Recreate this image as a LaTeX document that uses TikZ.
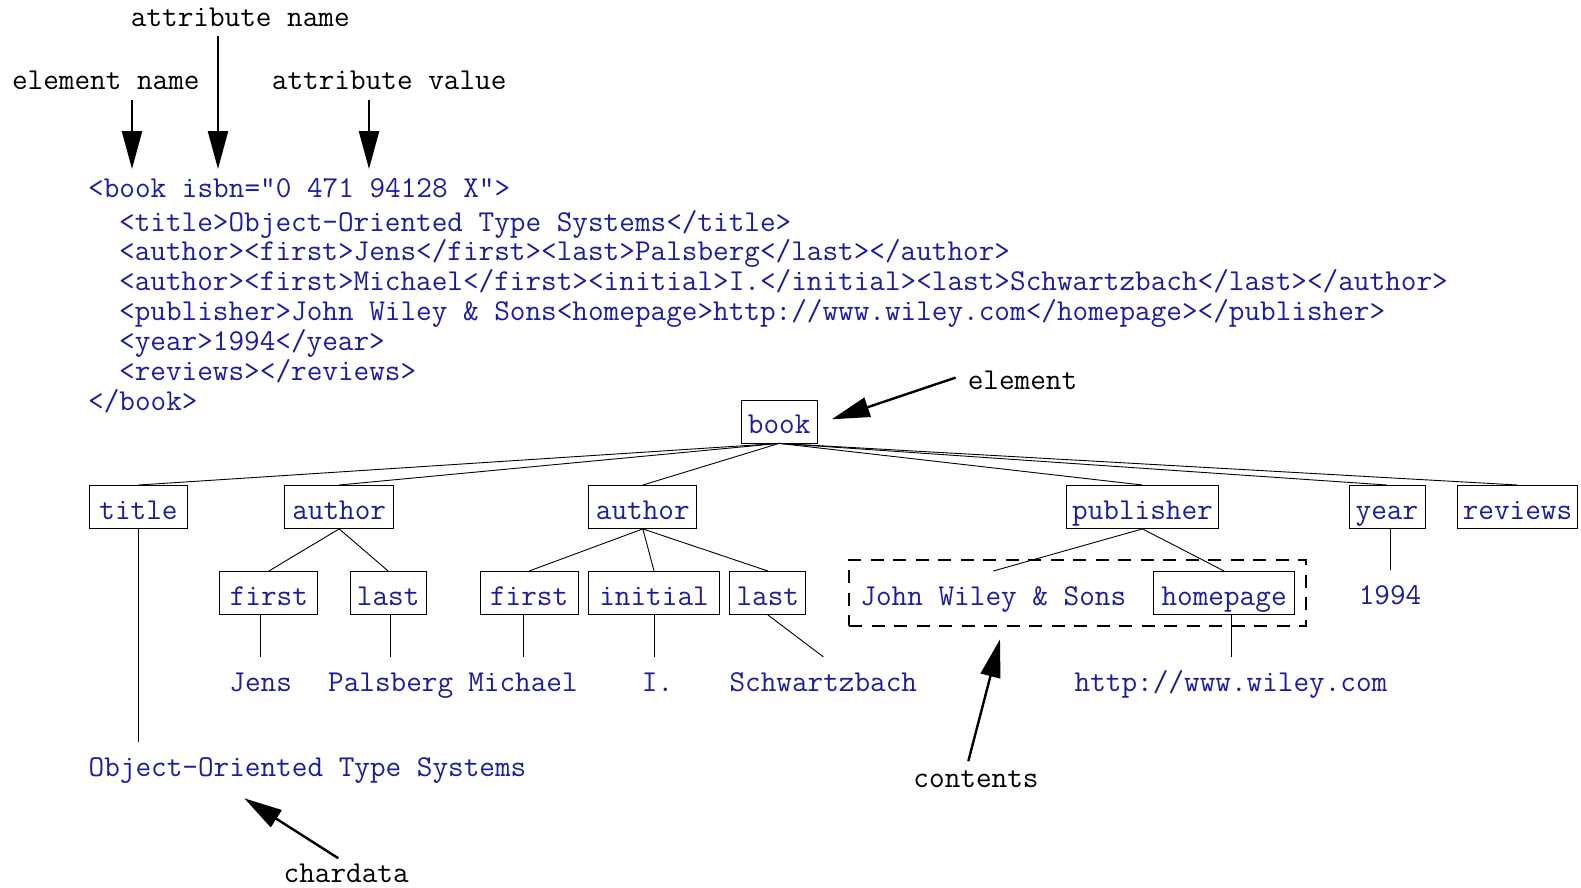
\documentclass[tikz,border=0pt]{standalone}
\usepackage{fontspec}
\usetikzlibrary{arrows.meta,fit,calc}
\definecolor{codeblue}{RGB}{28,28,160}
\newcommand\myfs{\ttfamily\fontsize{30.35pt}{32pt}\selectfont}
\begin{document}
\begin{tikzpicture}[x=1pt,y=-1pt,
  code/.style={font=\myfs, text=codeblue, anchor=base west, inner sep=0pt},
  ann/.style={font=\myfs, text=black, anchor=base, inner sep=0pt},
  elbox/.style={draw=black, line width=0.9pt, font=\myfs, text=codeblue, minimum height=43pt, inner xsep=0pt, inner ysep=2pt, text height=24.4pt, text depth=0pt, anchor=north west},
  leaf/.style={font=\myfs, text=codeblue, anchor=base, inner xsep=0pt, inner ysep=16pt, text height=18pt, text depth=5pt},
  edge/.style={line width=0.9pt},
  pointer/.style={line width=2.4pt, -{Triangle[length=38pt,width=20pt]}},
  contbox/.style={draw=black, line width=2.2pt, dash pattern=on 13pt off 9.5pt, inner sep=11pt}
]
\useasboundingbox (0,0) rectangle (1581,887);

% XML source
\node[code] (c1) at (88,197.5) {<book isbn="0 471 94128 X">};
\node[code] (c2) at (119,231) {<title>Object-Oriented Type Systems</title>};
\node[code] (c3) at (119,260.95) {<author><first>Jens</first><last>Palsberg</last></author>};
\node[code] (c4) at (119,290.9) {<author><first>Michael</first><initial>I.</initial><last>Schwartzbach</last></author>};
\node[code] (c5) at (119,320.85) {<publisher>John Wiley \& Sons<homepage>http://www.wiley.com</homepage></publisher>};
\node[code] (c6) at (119,350.8) {<year>1994</year>};
\node[code] (c7) at (119,380.75) {<reviews></reviews>};
\node[code] (c8) at (88,410.7) {</book>};

% annotations
\node[ann] (an) at (240.3,26.5) {attribute name};
\node[ann] (en) at (105.8,89.5) {element name};
\node[ann] (av) at (389.2,89.5) {attribute value};
\node[ann] (el) at (1022.5,389.5) {element};
\node[ann] (ct) at (976,787.2) {contents};
\node[ann] (ch) at (346.2,882.5) {chardata};

\coordinate (enTip) at (132,169);
\coordinate (anTip) at (218,169);
\coordinate (avTip) at (369,169);
\coordinate (elTip) at (831.7,419.3);
\coordinate (ctTip) at (1000,639.3);
\coordinate (chTip) at (244.3,798.3);

% tree boxes
\node[elbox, minimum width=76pt] (book) at (740.7,399.5) {book};
\node[elbox, minimum width=98pt] (title) at (89,485) {title};
\node[elbox, minimum width=108.6pt] (auth1) at (284.4,485) {author};
\node[elbox, minimum width=108pt] (auth2) at (588.4,485) {author};
\node[elbox, minimum width=152pt] (pub) at (1066,485) {publisher};
\node[elbox, minimum width=76pt] (year) at (1348.5,485) {year};
\node[elbox, minimum width=120pt] (rev) at (1457,485) {reviews};
\node[elbox, minimum width=98pt] (first1) at (219.4,571) {first};
\node[elbox, minimum width=76pt] (last1) at (349.7,571) {last};
\node[elbox, minimum width=98pt] (first2) at (479.7,571) {first};
\node[elbox, minimum width=130.4pt] (init) at (588.4,571) {initial};
\node[elbox, minimum width=76pt] (last2) at (729.4,571) {last};
\node[elbox, minimum width=140.7pt] (home) at (1153.3,571) {homepage};
\node[elbox, draw=none] (jws) at (860,571) {John Wiley \& Sons};
\node[contbox, fit=(jws)(home)] (cont) {};

% leaves
\node[leaf] (jens) at (260.7,691) {Jens};
\node[leaf] (pals) at (390.7,691) {Palsberg};
\node[leaf] (mich) at (523,691) {Michael};
\node[leaf] (ini) at (657.5,691) {I.};
\node[leaf] (schw) at (823.3,691) {Schwartzbach};
\node[leaf] (http) at (1231,691) {http://www.wiley.com};
\node[leaf] (y94) at (1390,604.3) {1994};
\node[leaf] (oots) at (307.5,776) {Object-Oriented Type Systems};

% tree edges
\foreach \c in {title,auth1,auth2,pub,year,rev}
  \draw[edge] (book.south) -- (\c.north);
\draw[edge] (auth1.south) -- (first1.north);
\draw[edge] (auth1.south) -- (last1.north);
\draw[edge] (auth2.south) -- (first2.north);
\draw[edge] (auth2.south) -- (init.north);
\draw[edge] (auth2.south) -- (last2.north);
\draw[edge] (pub.south) -- (jws.north);
\draw[edge] (pub.south) -- (home.north);
\draw[edge] (title.south) -- (title.south |- oots.north);
\draw[edge] (first1.south -| jens.north) -- (jens.north);
\draw[edge] (last1.south -| pals.north) -- (pals.north);
\draw[edge] (first2.south -| mich.north) -- (mich.north);
\draw[edge] (init.south) -- (init.south |- ini.north);
\draw[edge] (last2.south) -- (schw.north);
\draw[edge] (home.south -| http.north) -- (http.north);
\draw[edge] (year.south -| y94.north) -- (y94.north);

% annotation arrows
\draw[pointer] ($(en.south)+(26.2,10)$) -- (enTip);
\draw[pointer] ($(an.south)+(-22.3,9)$) -- (anTip);
\draw[pointer] ($(av.south)+(-20.2,10)$) -- (avTip);
\draw[pointer] ($(el.west)+(-12,-2.7)$) -- (elTip);
\draw[pointer] ($(ct.north)+(-7.7,-9)$) -- (ctTip);
\draw[pointer] ($(ch.north)+(-7.9,-5.5)$) -- (chTip);
\end{tikzpicture}
\end{document}
